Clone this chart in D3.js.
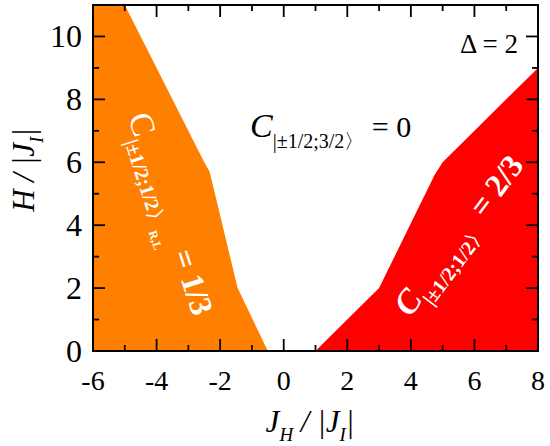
<!DOCTYPE html>
<html><head><meta charset="utf-8">
<script src="https://cdn.jsdelivr.net/npm/d3@7"></script>
<style>body{margin:0;background:#fff}svg{display:block}</style>
</head><body>
<script>
// Data: phase boundaries (J_H/|J_I|, H/|J_I|)
const orangeBoundaryJH = [-5, -2.5, -2.33, -1.45, -0.5];
const orangeBoundaryH  = [11, 6, 5.7, 2, 0];
const redBoundaryJH = [1, 3, 4.75, 5, 8];
const redBoundaryH  = [0, 2, 5.6, 6, 9];
const xTicks = [-6, -4, -2, 0, 2, 4, 6, 8];
const yTicks = [0, 2, 4, 6, 8, 10];
const xMinor = [-5, -3, -1, 1, 3, 5, 7];
const yMinor = [1, 3, 5, 7, 9];
const xDomain = [-6, 8];
const yDomain = [0, 11];

const W = 550, H = 446;
const FONT = "Liberation Serif";
const m = {left: 93, right: 12, top: 5, bottom: 95};
const svg = d3.select("body").append("svg").attr("width", W).attr("height", H);
const x = d3.scaleLinear().domain(xDomain).range([m.left, W - m.right]);
const y = d3.scaleLinear().domain(yDomain).range([H - m.bottom, m.top]);

const orangePts = [[xDomain[0], yDomain[1]]]
  .concat(orangeBoundaryJH.map((v, i) => [v, orangeBoundaryH[i]]))
  .concat([[xDomain[0], yDomain[0]]]);
const redPts = redBoundaryJH.map((v, i) => [v, redBoundaryH[i]])
  .concat([[xDomain[1], yDomain[0]]]);
const line = d3.line().x(d => x(d[0])).y(d => y(d[1]));
svg.append("path").attr("d", line(orangePts) + "Z").attr("fill", "#FF8000");
svg.append("path").attr("d", line(redPts) + "Z").attr("fill", "#FF0000");

const major = 12, minor = 6;
const g = svg.append("g").attr("stroke", "#000").attr("stroke-width", 1.8);
function tickSet(vals, len, axis) {
  vals.forEach(v => {
    if (axis === "x") {
      g.append("line").attr("x1", x(v)).attr("x2", x(v)).attr("y1", y(yDomain[0])).attr("y2", y(yDomain[0]) - len);
      g.append("line").attr("x1", x(v)).attr("x2", x(v)).attr("y1", y(yDomain[1])).attr("y2", y(yDomain[1]) + len);
    } else {
      g.append("line").attr("y1", y(v)).attr("y2", y(v)).attr("x1", x(xDomain[0])).attr("x2", x(xDomain[0]) + len);
      g.append("line").attr("y1", y(v)).attr("y2", y(v)).attr("x1", x(xDomain[1])).attr("x2", x(xDomain[1]) - len);
    }
  });
}
tickSet(xTicks, major, "x"); tickSet(xMinor, minor, "x");
tickSet(yTicks, major, "y"); tickSet(yMinor, minor, "y");
svg.append("rect").attr("x", x(xDomain[0])).attr("y", y(yDomain[1]))
  .attr("width", x(xDomain[1]) - x(xDomain[0])).attr("height", y(yDomain[0]) - y(yDomain[1]))
  .attr("fill", "none").attr("stroke", "#000").attr("stroke-width", 2);

// Tick labels
svg.selectAll(".xl").data(xTicks).enter().append("text")
  .attr("x", d => x(d)).attr("y", 390).attr("text-anchor", "middle").attr("font-size", 28).text(d => d);
svg.selectAll(".yl").data(yTicks).enter().append("text")
  .attr("x", 82).attr("y", d => y(d) + 11).attr("text-anchor", "end").attr("font-size", 32).text(d => d);

// Axis titles
const xt = svg.append("text").attr("x", 310).attr("y", 432).attr("text-anchor", "middle").attr("font-size", 31).attr("font-style", "italic");
xt.append("tspan").text("J");
xt.append("tspan").attr("font-size", 19).attr("dy", 9).text("H");
xt.append("tspan").attr("dy", -9).text(" / |J");
xt.append("tspan").attr("font-size", 19).attr("dy", 9).text("I");
xt.append("tspan").attr("dy", -9).text("|");

const yt = svg.append("text").attr("transform", "translate(34,170) rotate(-90)").attr("text-anchor", "middle").attr("font-size", 31).attr("font-style", "italic");
yt.append("tspan").text("H / |J");
yt.append("tspan").attr("font-size", 19).attr("dy", 9).text("I");
yt.append("tspan").attr("dy", -9).text("|");

// Delta label
svg.append("text").attr("x", 518).attr("y", 53).attr("text-anchor", "end").attr("font-size", 27).text("Δ = 2");

// Center label
const ct = svg.append("text").attr("x", 250).attr("y", 137).attr("font-size", 30);
ct.append("tspan").attr("font-style", "italic").attr("font-size", 34).text("C");
ct.append("tspan").attr("font-size", 20).attr("dy", 11).text("|±1/2;3/2〉");
ct.append("tspan").attr("dy", -11).text(" = 0");

// Orange label
const ot = svg.append("text").attr("transform", "translate(128,117) rotate(72)").attr("font-size", 32).attr("fill", "#fff").attr("font-weight", "bold");
ot.append("tspan").attr("font-weight", "normal").attr("font-size", 34).text("C");
ot.append("tspan").attr("font-size", 20).attr("dy", 11).text("|±1/2;1/2〉");
ot.append("tspan").attr("font-size", 12).attr("dy", 5).text("R,L");
ot.append("tspan").attr("dy", -16).text(" = 1/3");

// Red label
const rt = svg.append("text").attr("transform", "translate(410,318) rotate(-53)").attr("font-size", 32).attr("fill", "#fff").attr("font-weight", "bold");
rt.append("tspan").attr("font-style", "italic").attr("font-size", 34).text("C");
rt.append("tspan").attr("font-size", 20).attr("dy", 11).text("|±1/2;1/2〉");
rt.append("tspan").attr("dy", -11).text(" = 2/3");

svg.selectAll("text").attr("font-family", FONT);
</script>
</body></html>
